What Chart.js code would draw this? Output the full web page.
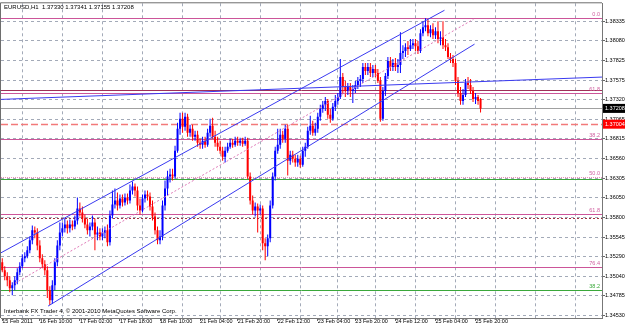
<!DOCTYPE html>
<html>
<head>
<meta charset="utf-8">
<script src="https://cdn.jsdelivr.net/npm/chart.js@4.4.1/dist/chart.umd.min.js"></script>
<style>
  html, body { margin: 0; padding: 0; background: #fff; }
  #wrap { width: 625px; height: 327px; }
</style>
</head>
<body>
<div id="wrap"><canvas id="chart" width="625" height="327"></canvas></div>
<script>
// EURUSD H1, 15 Feb 2011 -> 25 Feb 2011
const opens = [
  1.35218,1.35115,1.35038,1.34987,1.34884,1.34922,1.34987,1.35089,1.35167,1.35270,1.35296,1.35373,1.35502,1.35631,1.35605,1.35437,
  1.35270,1.35193,1.35115,1.34858,1.34729,1.34922,1.35218,1.35437,1.35605,1.35657,1.35708,1.35657,1.35708,1.35682,1.35760,1.35914,
  1.35863,1.35785,1.35708,1.35631,1.35682,1.35734,1.35579,1.35605,1.35553,1.35605,1.35631,1.35476,1.35824,1.35965,1.36017,1.35953,
  1.36043,1.35991,1.36056,1.36017,1.36146,1.36197,1.36146,1.35953,1.35888,1.36043,1.36094,1.36069,1.35940,1.35811,1.35631,1.35502,
  1.35553,1.35953,1.36172,1.36326,1.36352,1.36326,1.36661,1.36944,1.37073,1.36970,1.37099,1.36893,1.36944,1.36841,1.36867,1.36764,
  1.36738,1.36790,1.36738,1.36893,1.36983,1.36841,1.36764,1.36713,1.36661,1.36584,1.36661,1.36713,1.36764,1.36738,1.36790,1.36764,
  1.36790,1.36751,1.36790,1.36326,1.36017,1.35888,1.35940,1.35888,1.35914,1.35463,1.35425,1.35528,1.35953,1.36326,1.36661,1.36738,
  1.36867,1.36816,1.36944,1.36532,1.36610,1.36558,1.36507,1.36558,1.36481,1.36661,1.36713,1.36919,1.36983,1.36893,1.36944,1.37099,
  1.37202,1.37254,1.37305,1.37125,1.37073,1.37228,1.37305,1.37356,1.37614,1.37485,1.37434,1.37485,1.37434,1.37460,1.37511,1.37563,
  1.37588,1.37743,1.37691,1.37743,1.37666,1.37717,1.37666,1.37563,1.37073,1.37434,1.37627,1.37820,1.37743,1.37794,1.37743,1.37769,
  1.37923,1.37949,1.38000,1.37975,1.38026,1.38052,1.38013,1.37949,1.38181,1.38258,1.38284,1.38181,1.38232,1.38155,1.38207,1.38104,
  1.38129,1.38026,1.38000,1.37872,1.37846,1.37794,1.37563,1.37408,1.37305,1.37382,1.37537,1.37511,1.37434,1.37330,1.37356,1.37330
];
const highs = [
  1.35270,1.35167,1.35089,1.35038,1.34961,1.35038,1.35141,1.35218,1.35321,1.35347,1.35425,1.35553,1.35695,1.35682,1.35657,1.35502,
  1.35321,1.35244,1.35167,1.34909,1.34987,1.35270,1.35502,1.35734,1.35734,1.35785,1.35760,1.35772,1.35760,1.35824,1.36056,1.35991,
  1.35940,1.35837,1.35785,1.35734,1.35824,1.35785,1.35682,1.35657,1.35657,1.35682,1.35708,1.35888,1.36146,1.36172,1.36120,1.36094,
  1.36094,1.36107,1.36107,1.36223,1.36262,1.36236,1.36197,1.36043,1.36094,1.36146,1.36146,1.36120,1.36017,1.35863,1.35682,1.35631,
  1.36017,1.36275,1.36403,1.36429,1.36429,1.36725,1.37022,1.37151,1.37151,1.37151,1.37138,1.36996,1.36996,1.36919,1.36919,1.36816,
  1.36841,1.36841,1.36944,1.37073,1.37086,1.36919,1.36841,1.36790,1.36713,1.36713,1.36764,1.36816,1.36816,1.36841,1.36841,1.36828,
  1.36828,1.36841,1.36828,1.36378,1.36081,1.35991,1.35978,1.35965,1.35953,1.35528,1.35579,1.36017,1.36378,1.36713,1.36944,1.36944,
  1.36919,1.36996,1.36996,1.36661,1.36661,1.36610,1.36610,1.36597,1.36713,1.36764,1.36970,1.37112,1.37048,1.37022,1.37151,1.37254,
  1.37305,1.37356,1.37330,1.37202,1.37279,1.37382,1.37408,1.37846,1.37666,1.37563,1.37537,1.37537,1.37511,1.37563,1.37614,1.37640,
  1.37794,1.37794,1.37794,1.37794,1.37769,1.37769,1.37717,1.37614,1.37485,1.37666,1.37872,1.37872,1.37846,1.37859,1.37846,1.38194,
  1.38026,1.38052,1.38078,1.38104,1.38104,1.38104,1.38078,1.38232,1.38335,1.38374,1.38361,1.38284,1.38309,1.38258,1.38335,1.38207,
  1.38335,1.38104,1.38052,1.37923,1.37897,1.37846,1.37614,1.37485,1.37460,1.37588,1.37614,1.37588,1.37485,1.37408,1.37382,1.37341
];
const lows = [
  1.35089,1.34987,1.34909,1.34832,1.34793,1.34858,1.34935,1.35051,1.35141,1.35218,1.35270,1.35334,1.35450,1.35528,1.35373,1.35218,
  1.35141,1.35051,1.34755,1.34665,1.34678,1.34858,1.35167,1.35373,1.35553,1.35605,1.35592,1.35605,1.35631,1.35644,1.35708,1.35811,
  1.35734,1.35657,1.35579,1.35553,1.35631,1.35373,1.35502,1.35502,1.35502,1.35528,1.35425,1.35437,1.35785,1.35914,1.35888,1.35914,
  1.35940,1.35953,1.35965,1.35978,1.36094,1.36069,1.35888,1.35837,1.35863,1.35991,1.36017,1.35888,1.35760,1.35579,1.35450,1.35450,
  1.35502,1.35888,1.36081,1.36249,1.36275,1.36300,1.36635,1.36867,1.36893,1.36919,1.36841,1.36841,1.36790,1.36790,1.36713,1.36687,
  1.36687,1.36700,1.36713,1.36841,1.36816,1.36713,1.36661,1.36622,1.36532,1.36507,1.36635,1.36687,1.36700,1.36713,1.36725,1.36725,
  1.36713,1.36725,1.36300,1.35965,1.35837,1.35811,1.35605,1.35837,1.35373,1.35244,1.35296,1.35476,1.35914,1.36275,1.36622,1.36687,
  1.36764,1.36764,1.36339,1.36481,1.36507,1.36455,1.36455,1.36442,1.36455,1.36584,1.36687,1.36867,1.36854,1.36854,1.36893,1.37048,
  1.37151,1.37176,1.37073,1.37022,1.37048,1.37176,1.37254,1.37330,1.37408,1.37356,1.37382,1.37356,1.37279,1.37408,1.37460,1.37485,
  1.37537,1.37640,1.37640,1.37614,1.37614,1.37614,1.37537,1.37035,1.37048,1.37369,1.37588,1.37691,1.37691,1.37691,1.37666,1.37666,
  1.37846,1.37872,1.37897,1.37949,1.37975,1.37949,1.37910,1.37923,1.38142,1.38207,1.38142,1.38129,1.38104,1.38104,1.38052,1.38026,
  1.37975,1.37949,1.37846,1.37794,1.37743,1.37511,1.37356,1.37254,1.37254,1.37356,1.37460,1.37395,1.37292,1.37266,1.37254,1.37155
];
const closes = [
  1.35115,1.35038,1.34987,1.34884,1.34922,1.34987,1.35089,1.35167,1.35270,1.35296,1.35373,1.35502,1.35631,1.35605,1.35437,1.35270,
  1.35193,1.35115,1.34858,1.34729,1.34922,1.35218,1.35437,1.35605,1.35657,1.35708,1.35657,1.35708,1.35682,1.35760,1.35914,1.35863,
  1.35785,1.35708,1.35631,1.35682,1.35734,1.35579,1.35605,1.35553,1.35605,1.35631,1.35476,1.35824,1.35965,1.36017,1.35953,1.36043,
  1.35991,1.36056,1.36017,1.36146,1.36197,1.36146,1.35953,1.35888,1.36043,1.36094,1.36069,1.35940,1.35811,1.35631,1.35502,1.35553,
  1.35953,1.36172,1.36326,1.36352,1.36326,1.36661,1.36944,1.37073,1.36970,1.37099,1.36893,1.36944,1.36841,1.36867,1.36764,1.36738,
  1.36790,1.36738,1.36893,1.36983,1.36841,1.36764,1.36713,1.36661,1.36584,1.36661,1.36713,1.36764,1.36738,1.36790,1.36764,1.36790,
  1.36751,1.36790,1.36326,1.36017,1.35888,1.35940,1.35888,1.35914,1.35463,1.35425,1.35528,1.35953,1.36326,1.36661,1.36738,1.36867,
  1.36816,1.36944,1.36532,1.36610,1.36558,1.36507,1.36558,1.36481,1.36661,1.36713,1.36919,1.36983,1.36893,1.36944,1.37099,1.37202,
  1.37254,1.37305,1.37125,1.37073,1.37228,1.37305,1.37356,1.37614,1.37485,1.37434,1.37485,1.37434,1.37460,1.37511,1.37563,1.37588,
  1.37743,1.37691,1.37743,1.37666,1.37717,1.37666,1.37563,1.37073,1.37434,1.37627,1.37820,1.37743,1.37794,1.37743,1.37769,1.37923,
  1.37949,1.38000,1.37975,1.38026,1.38052,1.38013,1.37949,1.38181,1.38258,1.38284,1.38181,1.38232,1.38155,1.38207,1.38104,1.38129,
  1.38026,1.38000,1.37872,1.37846,1.37794,1.37563,1.37408,1.37305,1.37382,1.37537,1.37511,1.37434,1.37330,1.37356,1.37305,1.37208
];

// time axis: bar slots incl. the empty shift on the right
const slots = 240;
const tickIdx = [0, 15, 31, 47, 63, 79, 94, 110, 126, 141, 157, 173, 189];
const tickText = ['15 Feb 2011', '16 Feb 10:00', '17 Feb 02:00', '17 Feb 18:00', '18 Feb 10:00', '21 Feb 04:00',
  '21 Feb 20:00', '22 Feb 12:00', '23 Feb 04:00', '23 Feb 20:00', '24 Feb 12:00', '25 Feb 04:00', '25 Feb 20:00'];
const gridIdx = [8, 24, 40, 56, 72, 87, 103, 119, 134, 149, 165, 181, 197, 213, 229];

// price axis
const yTicks = [1.38335, 1.38080, 1.37825, 1.37575, 1.37320, 1.37065, 1.36815, 1.36560,
  1.36305, 1.36050, 1.35800, 1.35545, 1.35290, 1.35040, 1.34785, 1.34530];

// objects on the chart
const fibPrices = [1.38374, 1.37408, 1.36812, 1.36320, 1.35847, 1.35154];
const fibLabels = ['0.0', '61.8', '38.2', '50.0', '61.8', '76.4'];
const greenPrices = [1.36300, 1.34858];
const greenLabels = ['', '38.2'];
const darkPrices = [1.37447, 1.35795];
const bidPrice = 1.37208;
const orderPrice = 1.37004;
const trendUpper = [-0.9, 1.35334, 176.6, 1.38477];
const trendLower = [18.3, 1.34652, 188.6, 1.38039];
const trendMid = [5.1, 1.34948, 188.2, 1.38361];
const trendFlat = [-0.9, 1.37324, 240.3, 1.37614];

const labels = Array.from({ length: slots }, (_, i) => {
  const k = tickIdx.indexOf(i);
  return k >= 0 ? tickText[k] : '';
});
const candleColor = opens.map((o, i) => closes[i] >= o ? '#0000ff' : '#ff0000');

const gridColor = '#a3aab8';
const fontTiny = { family: 'Liberation Sans', size: 5.5 };

const overlay = {
  id: 'overlay',
  beforeDraw(chart) {
    const c = chart.ctx;
    c.save();
    c.fillStyle = '#fff';
    c.fillRect(0, 0, chart.width, chart.height);
    c.restore();
  },
  beforeDatasetsDraw(chart) {
    const { ctx, chartArea: a, scales: { y } } = chart;
    ctx.save();
    ctx.beginPath();
    ctx.rect(a.left, a.top, a.right - a.left, a.bottom - a.top);
    ctx.clip();
    const hline = (p, color, w, dash) => {
      const py = Math.round(y.getPixelForValue(p)) + 0.5;
      ctx.strokeStyle = color;
      ctx.lineWidth = w;
      ctx.setLineDash(dash);
      ctx.beginPath();
      ctx.moveTo(a.left, py);
      ctx.lineTo(a.right, py);
      ctx.stroke();
      return py;
    };
    hline(bidPrice, '#a0a0a0', 1, []);
    hline(orderPrice, '#f27a7a', 1.5, [7, 3]);
    hline(darkPrices[0], '#a0305a', 1, []);
    hline(darkPrices[1], '#a03040', 1, [2, 2]);
    ctx.font = '5.5px "Liberation Sans"';
    ctx.textAlign = 'right';
    ctx.textBaseline = 'middle';
    greenPrices.forEach((p, i) => {
      const py = hline(p, '#3aa83a', 1, []);
      ctx.fillStyle = '#3aa83a';
      if (greenLabels[i]) ctx.fillText(greenLabels[i], a.right - 2, py - 4);
    });
    fibPrices.forEach((p, i) => {
      const dotted = fibLabels[i] === '50.0';
      const py = hline(p, dotted ? '#e890b8' : '#cc5599', 1, dotted ? [1, 1] : []);
      ctx.fillStyle = '#d060a0';
      ctx.fillText(fibLabels[i], a.right - 2, py - 4);
    });
    ctx.restore();
  },
  afterDatasetsDraw(chart) {
    const { ctx, chartArea: a, scales: { x, y } } = chart;
    ctx.save();
    ctx.beginPath();
    ctx.rect(a.left, a.top, a.right - a.left, a.bottom - a.top);
    ctx.clip();
    const seg = (t, color, dash) => {
      ctx.strokeStyle = color;
      ctx.lineWidth = 1;
      ctx.setLineDash(dash);
      ctx.beginPath();
      ctx.moveTo(x.getPixelForValue(t[0]), y.getPixelForValue(t[1]));
      ctx.lineTo(x.getPixelForValue(t[2]), y.getPixelForValue(t[3]));
      ctx.stroke();
    };
    seg(trendMid, '#e07ab8', [2, 2]);
    seg(trendUpper, '#3a3af0', []);
    seg(trendLower, '#3a3af0', []);
    seg(trendFlat, '#3a3af0', []);
    ctx.restore();
  },
  afterDraw(chart) {
    const { ctx, chartArea: a, scales: { y } } = chart;
    ctx.save();
    // frame top / left
    ctx.strokeStyle = '#6e6e6e';
    ctx.lineWidth = 1;
    ctx.beginPath();
    ctx.moveTo(a.left - 0.5, a.bottom);
    ctx.lineTo(a.left - 0.5, a.top - 0.5);
    ctx.lineTo(a.right, a.top - 0.5);
    ctx.stroke();
    // price boxes on the axis
    const box = (p, bg) => {
      const py = y.getPixelForValue(p);
      ctx.fillStyle = bg;
      ctx.fillRect(a.right + 1, py - 4.5, chart.width - a.right, 9);
      ctx.fillStyle = '#fff';
      ctx.font = '5.5px "Liberation Sans"';
      ctx.textAlign = 'left';
      ctx.textBaseline = 'middle';
      ctx.fillText(p.toFixed(5), a.right + 3, py);
    };
    box(orderPrice, '#ff0000');
    box(bidPrice, '#000000');
    // texts
    ctx.fillStyle = '#000';
    ctx.textAlign = 'left';
    ctx.textBaseline = 'middle';
    ctx.font = '6px "Liberation Sans"';
    ctx.fillText('EURUSD,H1  1.37330 1.37341 1.37155 1.37208', 4, 7);
    ctx.fillText('Interbank FX Trader 4, \u00a9 2001-2010 MetaQuotes Software Corp.', 4, 311);
    ctx.restore();
  }
};

new Chart(document.getElementById('chart').getContext('2d'), {
  type: 'bar',
  data: {
    labels: labels,
    datasets: [
      {
        label: 'wick',
        data: lows.map((l, i) => [l, highs[i]]),
        backgroundColor: candleColor,
        barThickness: 1,
        grouped: false,
        borderWidth: 0,
        inflateAmount: 0
      },
      {
        label: 'body',
        data: opens.map((o, i) => [o, closes[i]]),
        backgroundColor: candleColor,
        barThickness: 2,
        grouped: false,
        borderWidth: 0,
        inflateAmount: 0
      }
    ]
  },
  options: {
    responsive: false,
    animation: false,
    devicePixelRatio: 1,
    layout: { padding: { left: 1, top: 2, right: 0, bottom: 0 } },
    plugins: { legend: { display: false }, tooltip: { enabled: false } },
    scales: {
      x: {
        type: 'category',
        offset: true,
        grid: {
          offset: false,
          color: c => gridIdx.includes(c.index) ? gridColor : 'rgba(0,0,0,0)',
          tickColor: c => tickIdx.includes(c.index) ? '#666' : 'rgba(0,0,0,0)',
          tickLength: 3
        },
        border: { color: '#777', dash: [3, 3] },
        ticks: {
          autoSkip: false, maxRotation: 0, minRotation: 0, align: 'start',
          padding: -3, color: '#000', font: fontTiny
        },
        afterFit: s => { s.height = 9; }
      },
      y: {
        position: 'right',
        min: 1.34498,
        max: 1.38567,
        afterBuildTicks: s => { s.ticks = yTicks.map(v => ({ value: v })); },
        grid: { color: gridColor, tickColor: '#666', tickLength: 3 },
        border: { color: '#777', dash: [3, 3] },
        ticks: {
          autoSkip: false, padding: 0, color: '#000', font: fontTiny,
          callback: v => v.toFixed(5)
        },
        afterFit: s => { s.width = 23; }
      }
    }
  },
  plugins: [overlay]
});
</script>
</body>
</html>
